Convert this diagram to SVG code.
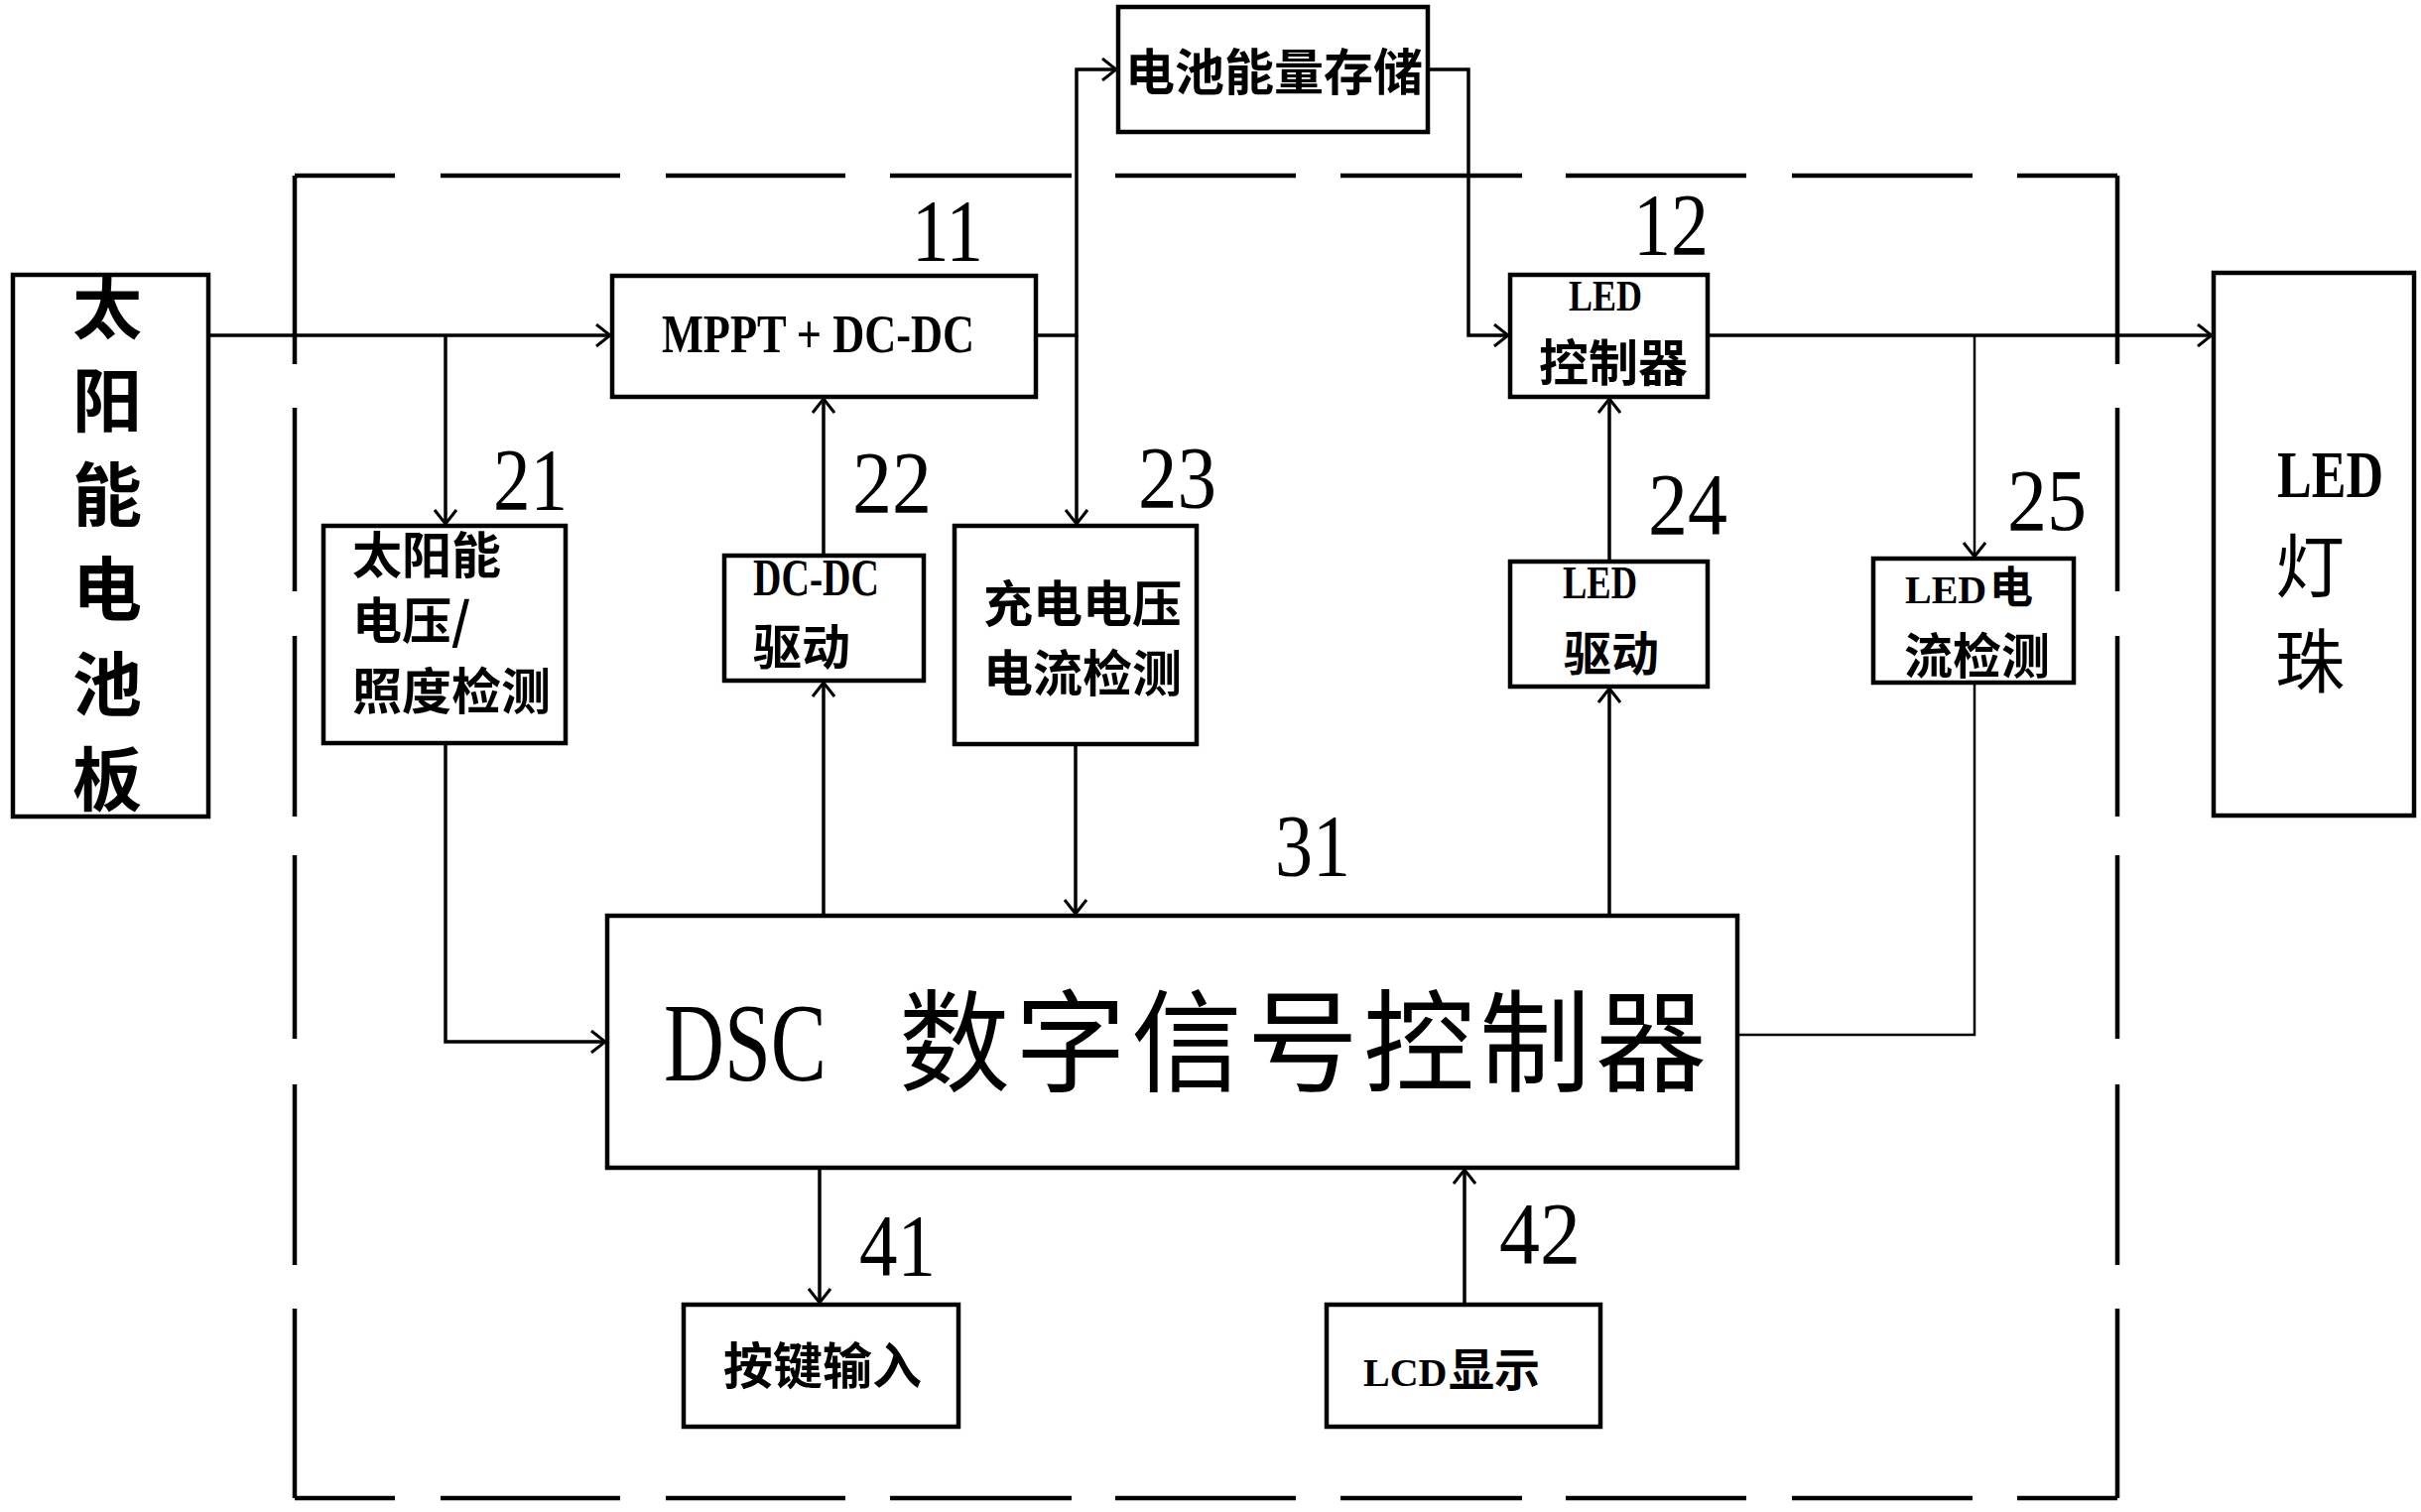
<svg xmlns="http://www.w3.org/2000/svg" width="2440" height="1524" viewBox="0 0 2440 1524">
<defs>
<style>
.box{fill:#fff;stroke:#000;stroke-width:4.5}
.ln{fill:none;stroke:#000;stroke-width:3.5}
.thin{stroke-width:2.5}
.bd{fill:none;stroke:#000;stroke-width:4.5}
.cjk{font-family:"Noto Sans CJK SC","Noto Sans CJK TC",sans-serif;font-weight:700;fill:#000}
.cjkr{font-family:"Noto Sans CJK SC","Noto Sans CJK TC",sans-serif;font-weight:400;fill:#000}
.lat{font-family:"Liberation Serif",serif;font-weight:700;fill:#000}
.num{font-family:"Liberation Serif",serif;font-size:88px;fill:#000}
</style>
<marker id="arr" viewBox="0 0 16 24" refX="15" refY="12" markerWidth="16" markerHeight="24" orient="auto" markerUnits="userSpaceOnUse">
<path d="M1,1 L15,12 L1,23" fill="none" stroke="#000" stroke-width="3"/>
</marker>
</defs>
<rect width="2440" height="1524" fill="#fff"/>

<g id="boundary" class="bd">
<path d="M297,177H398M444,177H625M671,177H852M897,177H1080M1124,177H1306M1351,177H1534M1578,177H1760M1806,177H1988M2033,177H2134"/>
<path d="M297,1510H398M444,1510H625M671,1510H852M897,1510H1080M1124,1510H1306M1351,1510H1534M1578,1510H1760M1806,1510H1988M2033,1510H2134"/>
<path d="M297,177V367M297,411V596M297,641V823M297,862V1047M297,1093V1275M297,1319V1510"/>
<path d="M2134,177V367M2134,411V596M2134,641V823M2134,862V1047M2134,1093V1275M2134,1319V1510"/>
</g>

<g id="connectors">
<path class="ln" d="M210,338H615" marker-end="url(#arr)"/>
<path class="ln" d="M449,338V528" marker-end="url(#arr)"/>
<path class="ln" d="M449,749V1050H610" marker-end="url(#arr)"/>
<path class="ln" d="M830,560V402" marker-end="url(#arr)"/>
<path class="ln" d="M830,923V688" marker-end="url(#arr)"/>
<path class="ln" d="M1044,338H1085V70H1125" marker-end="url(#arr)"/>
<path class="ln" d="M1085,338V528" marker-end="url(#arr)"/>
<path class="ln" d="M1084,750V921" marker-end="url(#arr)"/>
<path class="ln" d="M1439,70H1480V338H1520" marker-end="url(#arr)"/>
<path class="ln" d="M1721,338H2229" marker-end="url(#arr)"/>
<path class="ln thin" d="M1990,338V561" marker-end="url(#arr)"/>
<path class="ln thin" d="M1990,688V1043H1751"/>
<path class="ln" d="M1622,566V402" marker-end="url(#arr)"/>
<path class="ln" d="M1622,923V694" marker-end="url(#arr)"/>
<path class="ln" d="M826,1177V1313" marker-end="url(#arr)"/>
<path class="ln" d="M1476,1315V1179" marker-end="url(#arr)"/>
</g>

<g id="solar-panel">
<rect class="box" x="13" y="277" width="197" height="546"/>
<g class="cjk" font-size="70" text-anchor="middle">
<text x="108" y="336">太</text>
<text x="108" y="430">阳</text>
<text x="108" y="525">能</text>
<text x="108" y="620">电</text>
<text x="108" y="716">池</text>
<text x="108" y="812">板</text>
</g>
</g>

<g id="mppt">
<rect class="box" x="617" y="278" width="427" height="122"/>
<text class="lat" x="667" y="355" font-size="54" textLength="315" lengthAdjust="spacingAndGlyphs">MPPT + DC-DC</text>
<text class="num" x="919" y="262" textLength="72" lengthAdjust="spacingAndGlyphs">11</text>
</g>

<g id="battery">
<rect class="box" x="1127" y="7" width="312" height="126"/>
<text class="cjk" x="1284" y="91" font-size="50" text-anchor="middle">电池能量存储</text>
</g>

<g id="led-controller">
<rect class="box" x="1522" y="277" width="199" height="123"/>
<text class="lat" x="1581" y="313" font-size="44" textLength="74" lengthAdjust="spacingAndGlyphs">LED</text>
<text class="cjk" x="1626" y="384" font-size="50" text-anchor="middle">控制器</text>
<text class="num" x="1646" y="256" textLength="76" lengthAdjust="spacingAndGlyphs">12</text>
</g>

<g id="led-lamp">
<rect class="box" x="2231" y="275" width="202" height="547"/>
<text class="lat" x="2295" y="501" font-size="68" textLength="107" lengthAdjust="spacingAndGlyphs">LED</text>
<text class="cjkr" x="2293" y="597" font-size="70">灯</text>
<text class="cjkr" x="2293" y="693" font-size="70">珠</text>
</g>

<g id="solar-detect">
<rect class="box" x="326" y="530" width="244" height="219"/>
<g class="cjk" font-size="50">
<text x="355" y="578">太阳能</text>
<text x="355" y="644">电压/</text>
<text x="355" y="715">照度检测</text>
</g>
<text class="num" x="497" y="513" textLength="75" lengthAdjust="spacingAndGlyphs">21</text>
</g>

<g id="dcdc-driver">
<rect class="box" x="730" y="560" width="201" height="126"/>
<text class="lat" x="759" y="600" font-size="52" textLength="127" lengthAdjust="spacingAndGlyphs">DC-DC</text>
<text class="cjk" x="759" y="670" font-size="49">驱动</text>
<text class="num" x="859" y="516" textLength="80" lengthAdjust="spacingAndGlyphs">22</text>
</g>

<g id="charge-detect">
<rect class="box" x="962" y="530" width="244" height="220"/>
<g class="cjk" font-size="50" text-anchor="middle">
<text x="1091" y="627">充电电压</text>
<text x="1091" y="697">电流检测</text>
</g>
<text class="num" x="1147" y="511" textLength="79" lengthAdjust="spacingAndGlyphs">23</text>
</g>

<g id="led-driver">
<rect class="box" x="1522" y="566" width="199" height="126"/>
<text class="lat" x="1575" y="603" font-size="46" textLength="75" lengthAdjust="spacingAndGlyphs">LED</text>
<text class="cjk" x="1576" y="676" font-size="48">驱动</text>
<text class="num" x="1661" y="538" textLength="80" lengthAdjust="spacingAndGlyphs">24</text>
</g>

<g id="led-current-detect">
<rect class="box" x="1888" y="563" width="202" height="125"/>
<text class="lat" x="1920" y="608" font-size="40">LED</text>
<text class="cjk" x="2005" y="608" font-size="44">电</text>
<text class="cjk" x="1919" y="679" font-size="49">流检测</text>
<text class="num" x="2023" y="534" textLength="80" lengthAdjust="spacingAndGlyphs">25</text>
</g>

<g id="dsc">
<rect class="box" x="612" y="923" width="1139" height="254"/>
<text x="669" y="1089" font-size="112" textLength="164" lengthAdjust="spacingAndGlyphs" style="font-family:'Liberation Serif',serif">DSC</text>
<text class="cjkr" x="906" y="1092" font-size="112" letter-spacing="5">数字信号控制器</text>
<text class="num" x="1285" y="882" textLength="76" lengthAdjust="spacingAndGlyphs">31</text>
</g>

<g id="key-input">
<rect class="box" x="689" y="1315" width="277" height="123"/>
<text class="cjk" x="829" y="1395" font-size="50" text-anchor="middle">按键输入</text>
<text class="num" x="866" y="1285" textLength="77" lengthAdjust="spacingAndGlyphs">41</text>
</g>

<g id="lcd-display">
<rect class="box" x="1337" y="1315" width="276" height="123"/>
<text class="lat" x="1374" y="1397" font-size="40">LCD</text>
<text class="cjk" x="1460" y="1397" font-size="46">显示</text>
<text class="num" x="1511" y="1273" textLength="82" lengthAdjust="spacingAndGlyphs">42</text>
</g>
</svg>
